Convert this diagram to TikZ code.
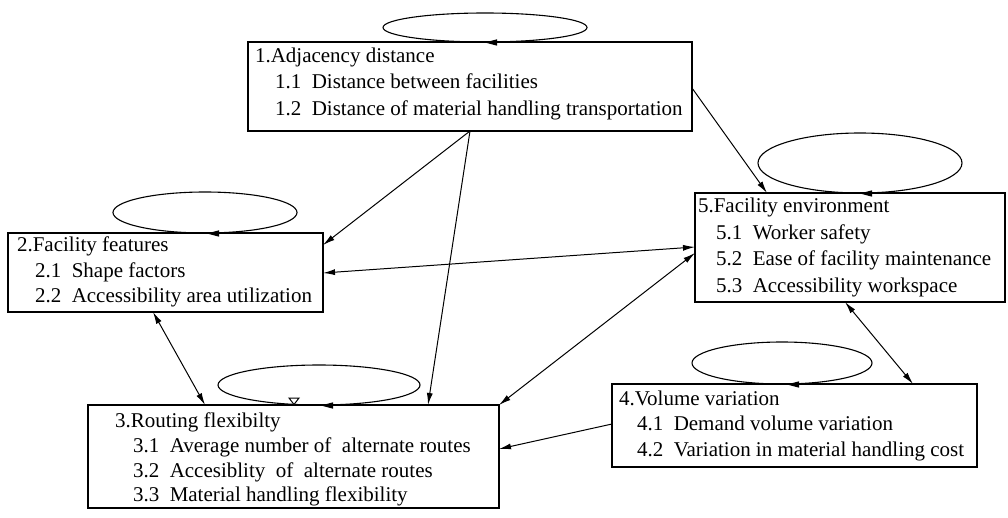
\documentclass[tikz,border=0pt]{standalone}
\usepackage{fontspec}
\setmainfont{Liberation Serif}
\usetikzlibrary{arrows.meta,calc,shapes.geometric}
\tikzset{
  box/.style={draw, line width=1.2pt, rectangle, inner sep=0pt, outer sep=0pt, anchor=north west},
  txt/.style={anchor=base west, inner sep=0pt, outer sep=0pt, font=\fontsize{21}{26}\selectfont},
  loopell/.style={draw, ellipse, line width=1.1pt, inner sep=0pt, outer sep=0pt},
  conn/.style={line width=1pt, -{Latex[length=12pt,width=6pt]}},
  dconn/.style={line width=1pt, {Latex[length=12pt,width=6pt]}-{Latex[length=12pt,width=6pt]}}
}
\newcommand{\looptip}[1]{\fill[black] (#1) -- ++(12,-3.2) -- ++(0,6.4) -- cycle;}
\begin{document}
\begin{tikzpicture}[x=1pt,y=-1pt]
\useasboundingbox (0,0) rectangle (1008,518);
\fill[white] (0,0) rectangle (1008,518);

% boxes
\node[box, minimum width=444pt, minimum height=89pt] (b1) at (248,42) {};
\node[box, minimum width=315pt, minimum height=79pt] (b2) at (8,233) {};
\node[box, minimum width=411pt, minimum height=103pt] (b3) at (88,405) {};
\node[box, minimum width=365pt, minimum height=83pt] (b4) at (612,384) {};
\node[box, minimum width=310pt, minimum height=109pt] (b5) at (695,193) {};

% texts box 1
\node[txt] (t10) at (255,63) {1.Adjacency distance};
\node[txt] (t11) at (275,89) {1.1~~Distance between facilities};
\node[txt] (t12) at (275,116) {1.2~~Distance of material handling transportation};
% texts box 2
\node[txt] (t20) at (17,252) {2.Facility features};
\node[txt] (t21) at (35,277) {2.1~~Shape factors};
\node[txt] (t22) at (35,302) {2.2~~Accessibility area utilization};
% texts box 3
\node[txt] (t30) at (115,427) {3.Routing flexibilty};
\node[txt] (t31) at (133,452) {3.1~~Average number of~~alternate routes};
\node[txt] (t32) at (133,477) {3.2~~Accesiblity~~of~~alternate routes};
\node[txt] (t33) at (133,501) {3.3~~Material handling flexibility};
% texts box 4
\node[txt] (t40) at (619,405) {4.Volume variation};
\node[txt] (t41) at (637,430) {4.1~~Demand volume variation};
\node[txt] (t42) at (637,456) {4.2~~Variation in material handling cost};
% texts box 5
\node[txt] (t50) at (698,213) {5.Facility environment};
\node[txt] (t51) at (716,240) {5.1~~Worker safety};
\node[txt] (t52) at (716,266) {5.2~~Ease of facility maintenance};
\node[txt] (t53) at (716,292) {5.3~~Accessibility workspace};

% self loops
\node[loopell, minimum width=204pt, minimum height=29pt] (l1) at (485,27.5) {};
\node[loopell, minimum width=184pt, minimum height=41pt] (l2) at (205,212.5) {};
\node[loopell, minimum width=202pt, minimum height=40pt] (l3) at (319,385) {};
\node[loopell, minimum width=180pt, minimum height=42pt] (l4) at (782,363) {};
\node[loopell, minimum width=204pt, minimum height=60pt] (l5) at (860,163) {};
\looptip{$(l1.south)+(0,0.5)$}
\looptip{$(l2.south)+(2,0.5)$}
\looptip{$(l3.south)+(2,0.5)$}
\looptip{$(l4.south)+(5,0.5)$}
\looptip{$(l5.south)+(0,0.5)$}
% small open triangle on loop 3
\draw[line width=1pt, fill=white] (289,398) -- (299,398) -- (294,404.5) -- cycle;

% connectors
\draw[conn] ($(b1.south west)+(222,0)$) -- ($(b2.north east)+(0,12)$);
\draw[conn] ($(b1.south west)+(222,0)$) -- ($(b3.north west)+(340,0)$);
\draw[conn] ($(b1.north east)+(0,46)$) -- ($(b5.north west)+(72,0)$);
\draw[dconn] ($(b2.north east)+(0,40)$) -- ($(b5.north west)+(0,54)$);
\draw[dconn] ($(b2.south west)+(145,0)$) -- ($(b3.north west)+(117,0)$);
\draw[dconn] (b3.north east) -- ($(b5.north west)+(0,60)$);
\draw[dconn] ($(b5.south west)+(150,0)$) -- ($(b4.north west)+(301,0)$);
\draw[conn] ($(b4.north west)+(0,40)$) -- ($(b3.north east)+(0,44)$);
\end{tikzpicture}
\end{document}
